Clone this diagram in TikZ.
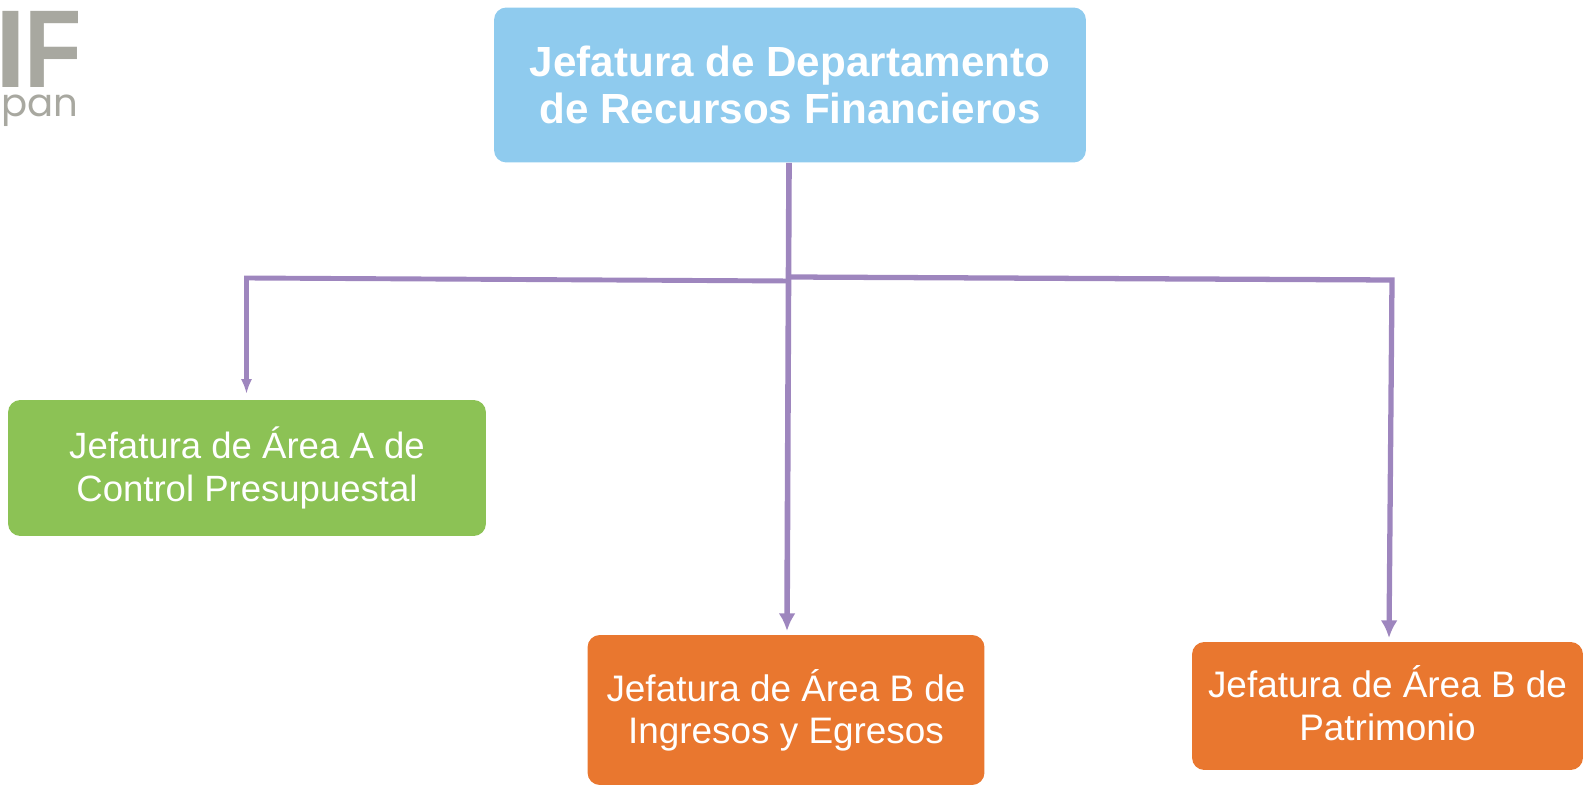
\documentclass[tikz,border=0pt]{standalone}
\usepackage{fontspec}
\usepackage{graphicx}
\setmainfont{Liberation Sans}
\newfontfamily\logofont{Poppins}
\usetikzlibrary{arrows.meta}
\definecolor{jefeblue}{HTML}{8FCBEE}
\definecolor{areagreen}{HTML}{8CC255}
\definecolor{areaorange}{HTML}{E9772F}
\definecolor{linkpurple}{HTML}{9E86BE}
\definecolor{logogray}{HTML}{A8A8A0}
\tikzset{
  box/.style={rectangle, rounded corners=7pt, align=center, text=white, inner sep=0pt},
  link/.style={draw=linkpurple, line width=3.2pt, -{Latex[length=10pt,width=9.6pt]}},
  thinlink/.style={draw=linkpurple, line width=2.8pt, -{Latex[length=8.5pt,width=6.4pt]}},
  logo/.style={text=logogray, inner sep=0pt, anchor=base west}
}
\begin{document}
\begin{tikzpicture}[x=0.02cm, y=-0.02cm]
  \useasboundingbox (0, 0) rectangle (1583, 786);
  \node (logo-if) [logo, font=\fontsize{63}{63}\selectfont\bfseries] at (-5, 88) {I\kern-1pt\scalebox{.85}[1]{F}};
  \node (logo-pan) [logo, font=\logofont\fontsize{22}{22}\selectfont] at (1, 117) {pan};

  \node (jefatura) [box, fill=jefeblue, minimum width=11.84cm, minimum height=3.1cm, font=\fontsize{24}{26.8}\selectfont\bfseries] at (790, 85) {Jefatura de Departamento\\de Recursos Financieros};
  \node (control) [box, fill=areagreen, minimum width=9.56cm, minimum height=2.72cm, font=\fontsize{20.8}{24.4}\selectfont] at (247, 468) {Jefatura de Área A de\\Control Presupuestal};
  \node (ingresos) [box, fill=areaorange, minimum width=7.94cm, minimum height=3cm, font=\fontsize{21}{24}\selectfont] at (786, 710) {Jefatura de Área B de\\Ingresos y Egresos};
  \node (patrimonio) [box, fill=areaorange, minimum width=7.82cm, minimum height=2.56cm, font=\fontsize{21}{24}\selectfont] at (1387.5, 706) {Jefatura de Área B de\\Patrimonio\rule[-3.4pt]{0pt}{0pt}};

  \coordinate (split-left) at (789, 281);
  \coordinate (left-corner) at (246.5, 278);
  \coordinate (left-end) at (246.5, 394);
  \coordinate (split-right) at (789, 277);
  \coordinate (right-corner) at (1392, 280);
  \coordinate (right-end) at (1389, 638);
  \coordinate (middle-end) at (787, 631);

  \draw[link] (jefatura.south -| split-left) to (middle-end);
  \draw[thinlink] (split-left) to (left-corner) to (left-end);
  \draw[link, line width=3pt] (split-right) to (right-corner) to (right-end);
\end{tikzpicture}
\end{document}
